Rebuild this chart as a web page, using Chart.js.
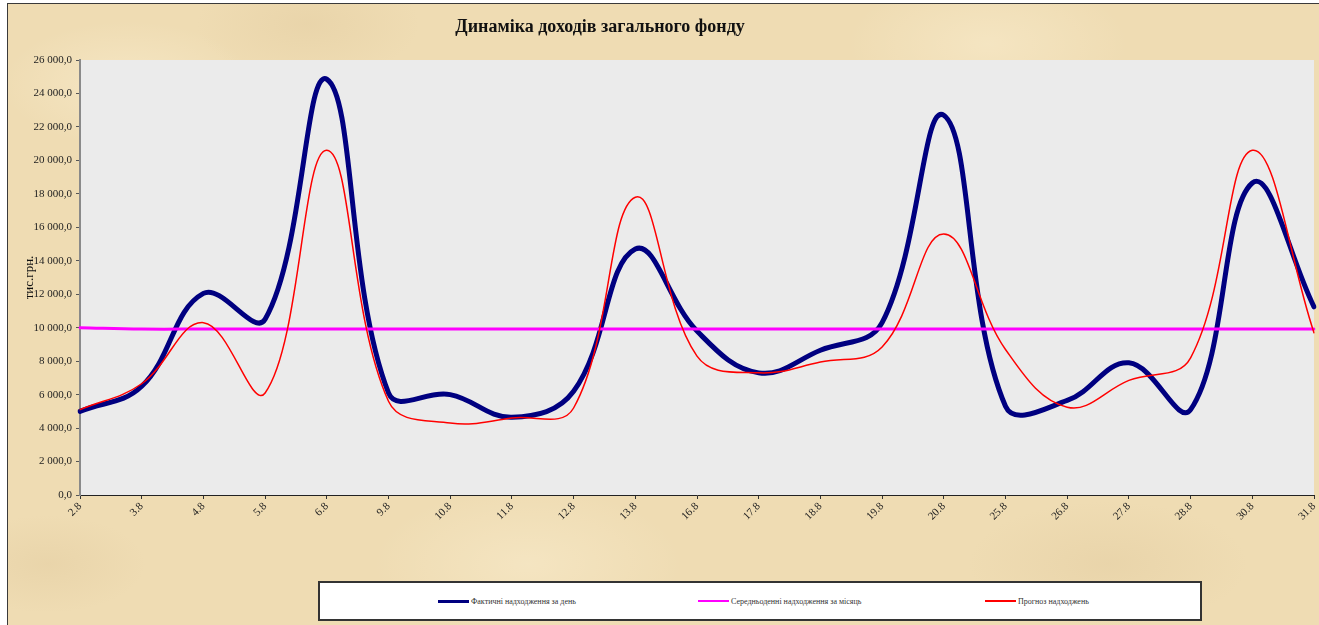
<!DOCTYPE html>
<html>
<head>
<meta charset="utf-8">
<script src="https://cdn.jsdelivr.net/npm/chart.js@4/dist/chart.umd.min.js"></script>
<style>
  html, body { margin: 0; padding: 0; background: #ffffff; overflow: hidden; }
  #frame {
    position: absolute; left: 7px; top: 3px; width: 1330px; height: 640px;
    border-left: 1px solid #3a3a3a; border-top: 1px solid #3a3a3a;
    background-color: #efdcb3;
    background-image:
      radial-gradient(ellipse 180px 90px at 120px 80px, rgba(255,245,220,0.4), rgba(255,245,220,0) 70%),
      radial-gradient(ellipse 220px 110px at 520px 560px, rgba(255,245,220,0.35), rgba(255,245,220,0) 70%),
      radial-gradient(ellipse 200px 100px at 980px 40px, rgba(255,245,220,0.35), rgba(255,245,220,0) 70%),
      radial-gradient(ellipse 160px 80px at 300px 20px, rgba(200,170,120,0.15), rgba(200,170,120,0) 70%),
      radial-gradient(ellipse 200px 90px at 1100px 560px, rgba(200,170,120,0.15), rgba(200,170,120,0) 70%),
      radial-gradient(ellipse 140px 70px at 40px 560px, rgba(200,170,120,0.15), rgba(200,170,120,0) 70%);
  }
  #wrap { position: absolute; left: 0; top: 0; width: 1319px; height: 625px; }
  #legend {
    position: absolute; left: 318px; top: 581px; width: 880px; height: 36px;
    background: #ffffff; border: 2px solid #333333;
    font-family: "Liberation Serif", "Times New Roman", serif; font-size: 8px; color: #333;
  }
  .item { position: absolute; top: 0; height: 36px; display: flex; align-items: center; white-space: nowrap; }
  .swatch { display: inline-block; width: 31px; margin-right: 2px; }
</style>
</head>
<body>
<div id="frame"></div>
<div id="wrap"><canvas id="c"></canvas></div>
<div id="legend"></div>
<script>
const TITLE = 'Динаміка доходів загального фонду';
const Y_TITLE = 'тис.грн.';
const categories = ['2.8','3.8','4.8','5.8','6.8','9.8','10.8','11.8','12.8','13.8','16.8','17.8','18.8','19.8','20.8','25.8','26.8','27.8','28.8','30.8','31.8'];
const seriesNames = ['Фактичні надходження за день', 'Середньоденні надходження за місяць', 'Прогноз надходжень'];
const actual   = [5000, 6500, 12050, 10500, 24850, 6100, 6000, 4650, 6200, 14700, 9800, 7300, 8650, 10300, 22700, 5300, 5650, 7900, 5100, 18650, 11250];
const average  = [10000, 9920, 9920, 9920, 9920, 9920, 9920, 9920, 9920, 9920, 9920, 9920, 9920, 9920, 9920, 9920, 9920, 9920, 9920, 9920, 9920];
const forecast = [5100, 6650, 10300, 6100, 20600, 5600, 4300, 4600, 5200, 17800, 8300, 7300, 7950, 8850, 15600, 8700, 5250, 6850, 8200, 20600, 9700];
const Y_MIN = 0, Y_MAX = 26000, Y_STEP = 2000;

function fmtTick(v) {
  const s = String(Math.round(v));
  const body = s.length > 3 ? s.slice(0, -3) + ' ' + s.slice(-3) : s;
  return body + ',0';
}

const colors = ['#000080', '#ff00ff', '#ff0000'];
const widths = [5, 3, 1.5];

const bgPlugin = {
  id: 'bg',
  beforeDraw(chart) {
    const { ctx, chartArea: a } = chart;
    ctx.save();
    ctx.fillStyle = '#ebebeb';
    ctx.fillRect(a.left, a.top, a.right - a.left, a.bottom - a.top);
    ctx.fillStyle = '#111';
    ctx.font = 'bold 18px "Liberation Serif", "Times New Roman", serif';
    ctx.textAlign = 'center';
    ctx.textBaseline = 'middle';
    ctx.fillText(TITLE, 600, 27);
    ctx.restore();
  }
};

const chart = new Chart(document.getElementById('c'), {
  type: 'line',
  data: {
    labels: categories,
    datasets: [
      { label: seriesNames[0], data: actual, borderColor: colors[0], borderWidth: widths[0], order: 3 },
      { label: seriesNames[1], data: average, borderColor: colors[1], borderWidth: widths[1], order: 2 },
      { label: seriesNames[2], data: forecast, borderColor: colors[2], borderWidth: widths[2], order: 1 }
    ]
  },
  options: {
    responsive: true,
    maintainAspectRatio: false,
    animation: false,
    layout: { padding: { top: 60, right: 5, bottom: 0, left: 0 } },
    elements: {
      point: { radius: 0, hoverRadius: 0 },
      line: { tension: 0.4, fill: false, borderCapStyle: 'round', borderJoinStyle: 'round' }
    },
    plugins: { legend: { display: false }, title: { display: false }, tooltip: { enabled: false } },
    scales: {
      x: {
        offset: false,
        ticks: {
          autoSkip: false, maxRotation: 45, minRotation: 45, padding: 1,
          color: '#222', font: { family: '"Liberation Serif", "Times New Roman", serif', size: 11 }
        },
        grid: { drawOnChartArea: false, drawTicks: true, tickLength: 4, color: '#333', offset: false },
        border: { display: true, color: '#222', width: 1 },
        afterFit(s) { s.height = 130; s.paddingLeft = 0; s.paddingRight = 0; }
      },
      y: {
        min: Y_MIN, max: Y_MAX,
        ticks: {
          stepSize: Y_STEP, padding: 4, color: '#222',
          font: { family: '"Liberation Serif", "Times New Roman", serif', size: 11 },
          callback: (v) => fmtTick(v)
        },
        grid: { drawOnChartArea: false, drawTicks: true, tickLength: 4, color: '#555' },
        border: { display: true, color: '#8a8a8a', width: 2 },
        title: {
          display: true, text: Y_TITLE, color: '#111',
          font: { family: '"Liberation Serif", "Times New Roman", serif', size: 13 },
          padding: { top: 22, bottom: 0 }
        },
        afterFit(s) { s.width = 80; s.paddingTop = 0; s.paddingBottom = 0; }
      }
    }
  },
  plugins: [bgPlugin]
});

// HTML legend built from the series
const legendPos = [118, 378, 665];
const legend = document.getElementById('legend');
seriesNames.forEach((name, i) => {
  const it = document.createElement('div');
  it.className = 'item';
  it.style.left = legendPos[i] + 'px';
  const sw = document.createElement('span');
  sw.className = 'swatch';
  sw.style.borderTop = (i === 0 ? 3 : 2) + 'px solid ' + colors[i];
  const tx = document.createElement('span');
  tx.textContent = name;
  it.appendChild(sw); it.appendChild(tx);
  legend.appendChild(it);
});
</script>
</body>
</html>
